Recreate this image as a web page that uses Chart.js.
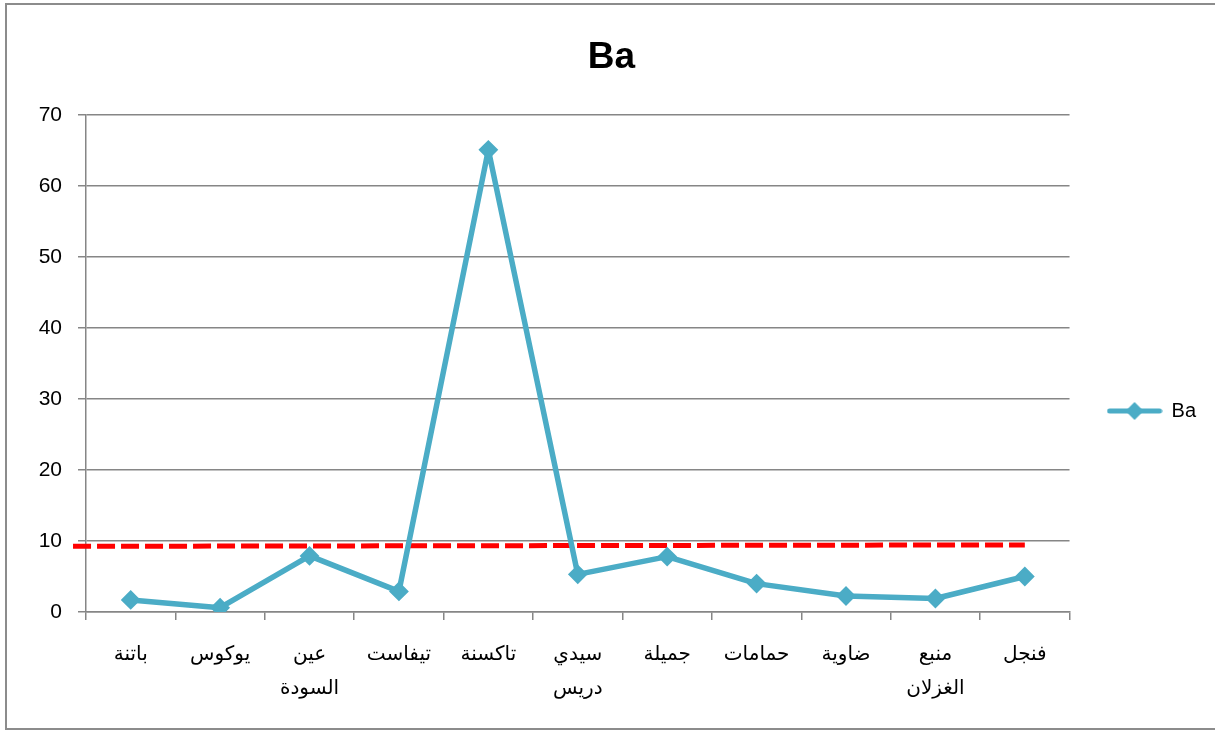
<!DOCTYPE html>
<html>
<head>
<meta charset="utf-8">
<script src="https://cdn.jsdelivr.net/npm/chart.js@4/dist/chart.umd.min.js"></script>
<style>
  html, body { margin: 0; padding: 0; background: #fff; }
  #wrap { width: 1215px; height: 731px; position: relative; }
</style>
</head>
<body>
<div id="wrap"><canvas id="c" width="1215" height="731"></canvas></div>
<script>
// Sampling sites (multi-line names are split into arrays)
const sites = [
  'باتنة',
  'يوكوس',
  ['عين', 'السودة'],
  'تيفاست',
  'تاكسنة',
  ['سيدي', 'دريس'],
  'جميلة',
  'حمامات',
  'ضاوية',
  ['منبع', 'الغزلان'],
  'فنجل'
];

// Barium concentration per site
const baValues = [1.7, 0.6, 7.9, 2.9, 65.1, 5.3, 7.8, 4.0, 2.25, 1.9, 5.0];

// Reference limit line: positions along the site index axis and its levels
const limitX = [-0.645, 10];
const limitY = [9.25, 9.45];

// Y axis ticks
const yTicks = [0, 10, 20, 30, 40, 50, 60, 70];

const BLUE = '#4BACC6';
const GRID = '#868686';
const FONT = "'Liberation Sans', Arial, 'DejaVu Sans', sans-serif";

// Legend symbol: short line with a diamond in the middle
function legendSymbol() {
  const c = document.createElement('canvas');
  c.width = 56; c.height = 20;
  const g = c.getContext('2d');
  g.strokeStyle = BLUE;
  g.lineWidth = 5;
  g.lineCap = 'round';
  g.beginPath(); g.moveTo(3, 10); g.lineTo(53, 10); g.stroke();
  g.fillStyle = BLUE;
  g.beginPath();
  g.moveTo(28, 1); g.lineTo(37, 10); g.lineTo(28, 19); g.lineTo(19, 10);
  g.closePath(); g.fill();
  return c;
}

// Outer frame around the chart
const framePlugin = {
  id: 'frame',
  beforeDraw(chart) {
    const ctx = chart.ctx;
    ctx.save();
    ctx.fillStyle = '#fff';
    ctx.fillRect(0, 0, chart.width, chart.height);
    ctx.strokeStyle = '#8c8c8c';
    ctx.lineWidth = 2;
    ctx.strokeRect(6, 4, chart.width + 10, chart.height - 6);
    ctx.restore();
  }
};

const symbol = legendSymbol();

new Chart(document.getElementById('c'), {
  type: 'line',
  data: {
    labels: sites,
    datasets: [
      {
        label: 'Ba',
        data: baValues,
        borderColor: BLUE,
        backgroundColor: BLUE,
        borderWidth: 5.5,
        borderJoinStyle: 'round',
        pointStyle: 'rectRot',
        pointRadius: 8.5,
        pointBorderWidth: 2,
        pointBackgroundColor: BLUE,
        pointBorderColor: BLUE,
        tension: 0,
        order: 0
      },
      {
        label: 'limit',
        data: limitX.map((x, i) => ({ x: x, y: limitY[i] })),
        xAxisID: 'x2',
        borderColor: '#ff0000',
        borderWidth: 5,
        borderDash: [18, 6],
        pointRadius: 0,
        fill: false,
        clip: false,
        order: 1
      }
    ]
  },
  plugins: [framePlugin],
  options: {
    responsive: false,
    animation: false,
    devicePixelRatio: 1,
    layout: { padding: { left: 17, right: 9, top: 0, bottom: 0 } },
    plugins: {
      title: {
        display: true,
        text: 'Ba',
        color: '#000',
        font: { family: FONT, size: 37, weight: 'bold', lineHeight: 1.2 },
        padding: { top: 36, bottom: 34.6 }
      },
      legend: {
        position: 'right',
        fullSize: true,
        title: { display: true, text: '', padding: { top: 45, bottom: 45 }, font: { size: 1, lineHeight: 1 } },
        labels: {
          usePointStyle: true,
          pointStyle: symbol,
          pointStyleWidth: 54,
          padding: 38,
          color: '#000',
          font: { family: FONT, size: 20 },
          generateLabels: () => [{
            text: 'Ba',
            pointStyle: symbol,
            fillStyle: BLUE,
            strokeStyle: BLUE,
            fontColor: '#000',
            lineWidth: 0,
            hidden: false,
            datasetIndex: 0
          }]
        }
      },
      tooltip: { enabled: false }
    },
    scales: {
      x: {
        type: 'category',
        offset: true,
        border: { color: GRID, width: 1.5 },
        grid: {
          offset: true,
          drawOnChartArea: false,
          drawTicks: true,
          tickLength: 8,
          color: GRID,
          lineWidth: 1.5
        },
        ticks: {
          color: '#000',
          padding: 17,
          maxRotation: 0,
          autoSkip: false,
          font: { family: FONT, size: 20, lineHeight: 1.7 }
        },
        afterFit(scale) { scale.height = 119; }
      },
      x2: {
        type: 'linear',
        display: false,
        min: -0.5,
        max: sites.length - 0.5
      },
      y: {
        min: 0,
        max: 70,
        border: { color: GRID, width: 1.5 },
        grid: {
          color: GRID,
          lineWidth: 1.5,
          tickLength: 8
        },
        afterBuildTicks(scale) { scale.ticks = yTicks.map(v => ({ value: v })); },
        ticks: {
          color: '#000',
          padding: 16,
          font: { family: FONT, size: 21 }
        },
        afterFit(scale) { scale.width = 69; }
      }
    }
  }
});
</script>
</body>
</html>
